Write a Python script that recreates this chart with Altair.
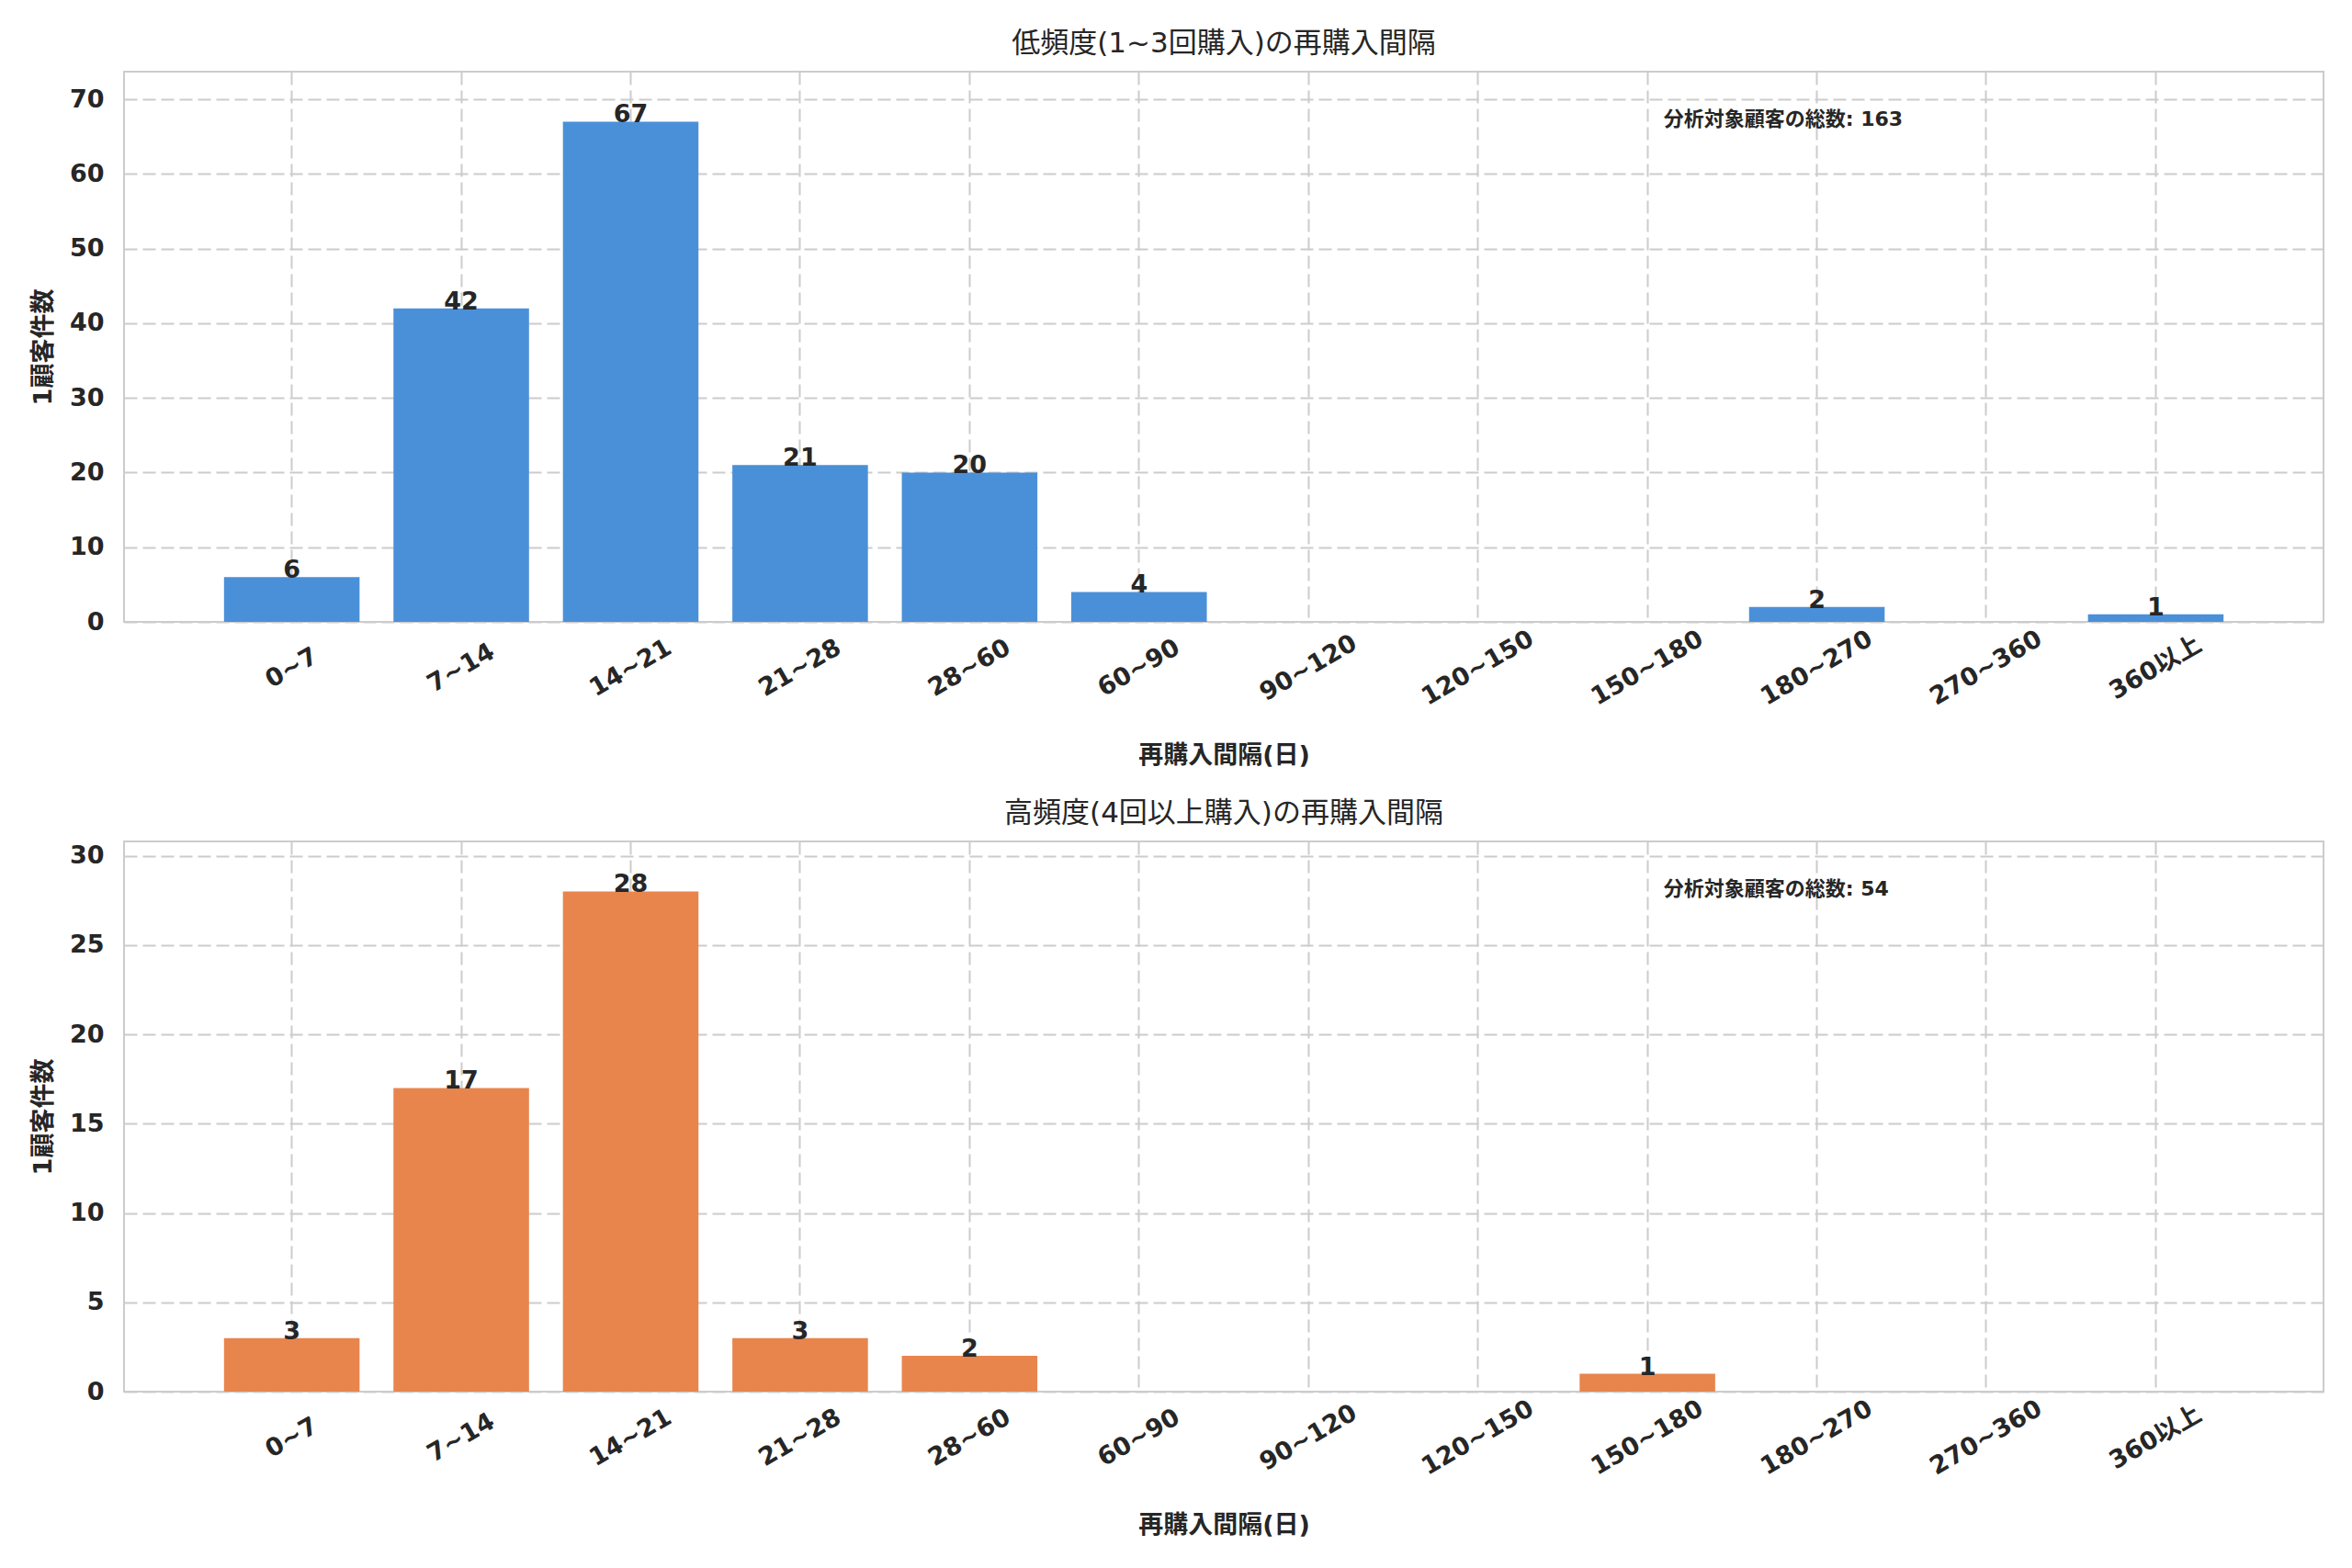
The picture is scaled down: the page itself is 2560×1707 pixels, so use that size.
import pandas as pd
import altair as alt

# interval bins (days)
cats = ["0~7", "7~14", "14~21", "21~28", "28~60", "60~90", "90~120",
        "120~150", "150~180", "180~270", "270~360", "360以上"]
light_counts = [6, 42, 67, 21, 20, 4, 0, 0, 0, 2, 0, 1]
heavy_counts = [3, 17, 28, 3, 2, 0, 0, 0, 1, 0, 0, 0]

titles = ["低頻度(1~3回購入)の再購入間隔", "高頻度(4回以上購入)の再購入間隔"]
colors = ["#4A90D9", "#E8854D"]
x_title = "再購入間隔(日)"
y_title = "1顧客件数"
note_label = "分析対象顧客の総数"

FONT = "DejaVu Sans, Noto Sans CJK JP, sans-serif"
INK = "#262626"
W, H = 2394, 599


def panel(vals, color, title, step):
    df = pd.DataFrame({"cat": cats, "n": vals})
    ymax = max(vals) * 1.1
    x = alt.X("cat:N", sort=cats, title=x_title,
              scale=alt.Scale(paddingInner=0.2, paddingOuter=0.59),
              axis=alt.Axis(labelAngle=-30, labelAlign="center", labelBaseline="middle",
                            labelPadding=50, bandPosition=0.5, titlePadding=37))
    y = alt.Y("n:Q", title=y_title,
              scale=alt.Scale(domain=[0, ymax], nice=False),
              axis=alt.Axis(values=list(range(0, int(ymax) + 1, step)), titlePadding=14))
    base = alt.Chart(df)
    bars = base.mark_bar(color=color).encode(x=x, y=y)
    labels = base.transform_filter("datum.n > 0").mark_text(
        baseline="alphabetic", dy=1, fontSize=27, fontWeight="bold", color=INK, font=FONT
    ).encode(x=x, y=y, text="n:Q")
    note = alt.Chart(pd.DataFrame({"t": [f"{note_label}: {sum(vals)}"]})).mark_text(
        align="left", baseline="middle", fontSize=22, fontWeight="bold", color=INK, font=FONT
    ).encode(x=alt.value(W * 0.7), y=alt.value(H * 0.087), text="t:N")
    return alt.layer(bars, labels, note).properties(
        width=W, height=H,
        title=alt.TitleParams(title, fontSize=31, fontWeight="normal", color=INK, font=FONT, offset=14),
    )


chart = alt.vconcat(
    panel(light_counts, colors[0], titles[0], 10),
    panel(heavy_counts, colors[1], titles[1], 5),
    spacing=32,
).properties(
    padding={"left": 24, "top": 23, "right": 10, "bottom": 10},
    background="white",
).configure_view(
    stroke="#cccccc", strokeWidth=2
).configure_axis(
    labelFont=FONT, titleFont=FONT, labelFontSize=27, titleFontSize=27,
    labelFontWeight="bold", titleFontWeight="bold",
    labelColor=INK, titleColor=INK,
    domain=False, ticks=False,
    grid=True, gridColor="#cccccc", gridDash=[14, 6], gridWidth=2,
).configure_axisY(
    labelPadding=22
)

chart.save("out.html", embed_options={"renderer": "svg", "actions": False})
